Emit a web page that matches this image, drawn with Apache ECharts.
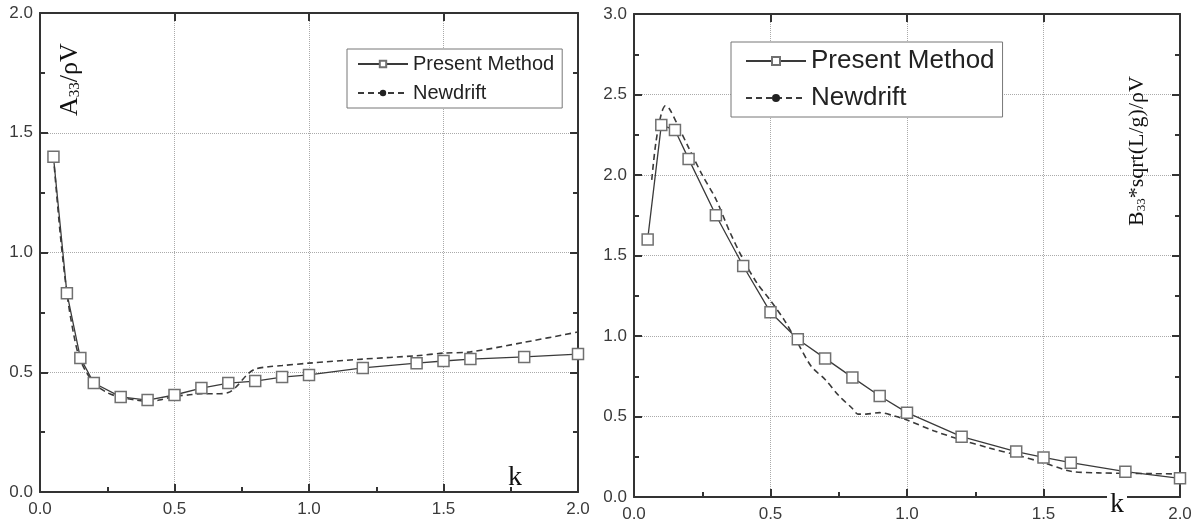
<!DOCTYPE html>
<html><head><meta charset="utf-8">
<script src="https://cdn.jsdelivr.net/npm/echarts@6/dist/echarts.min.js"></script>
<style>html,body{margin:0;padding:0;background:#fff}#c{width:1202px;height:527px}</style>
</head><body><div id="c"></div>
<script>
// ---- data ----
const kPresent = [0.05,0.1,0.15,0.2,0.3,0.4,0.5,0.6,0.7,0.8,0.9,1.0,1.2,1.4,1.5,1.6,1.8,2.0];
const a33Present = [1.40,0.83,0.56,0.455,0.397,0.384,0.405,0.434,0.455,0.463,0.48,0.489,0.518,0.538,0.547,0.555,0.564,0.576];
const b33Present = [1.60,2.31,2.28,2.10,1.75,1.435,1.147,0.98,0.861,0.743,0.627,0.524,0.375,0.282,0.246,0.213,0.157,0.116];

const kNewdriftA = [0.05,0.075,0.1,0.125,0.15,0.2,0.25,0.3,0.35,0.4,0.45,0.5,0.55,0.6,0.65,0.7,0.73,0.77,0.8,0.85,0.9,1.0,1.2,1.4,1.5,1.6,1.8,2.0];
const a33Newdrift = [1.40,1.08,0.83,0.66,0.55,0.455,0.415,0.395,0.385,0.378,0.385,0.40,0.405,0.41,0.41,0.415,0.44,0.49,0.513,0.523,0.528,0.538,0.555,0.569,0.58,0.585,0.625,0.668];

const kNewdriftB = [0.065,0.08,0.1,0.115,0.13,0.16,0.2,0.25,0.3,0.35,0.4,0.45,0.5,0.55,0.6,0.65,0.7,0.75,0.8,0.82,0.85,0.9,0.95,1.0,1.1,1.2,1.3,1.4,1.5,1.6,1.7,1.8,1.9,2.0];
const b33Newdrift = [1.97,2.2,2.38,2.43,2.41,2.31,2.17,2.0,1.85,1.65,1.475,1.33,1.22,1.10,0.955,0.81,0.73,0.63,0.55,0.515,0.515,0.524,0.505,0.478,0.41,0.354,0.305,0.261,0.213,0.16,0.15,0.147,0.145,0.143];

const seriesNames = ['Present Method','Newdrift'];

const pairs = (xs, ys) => xs.map((x,i)=>[x, ys[i]]);

const AX = '#333';
const FONT = 'Liberation Sans, Arial, sans-serif';
const SERIF = 'Liberation Serif, Times New Roman, serif';

function mainX(gi){
  return {gridIndex:gi, type:'value', min:0, max:2, interval:0.5, position:'bottom',
    axisLine:{show:true, onZero:false, lineStyle:{color:AX, width:2}},
    axisTick:{show:true, inside:true, length:8, lineStyle:{color:AX, width:2}},
    minorTick:{show:true, splitNumber:2, length:5, lineStyle:{color:AX, width:2}},
    axisLabel:{show:true, fontSize:17, color:'#3a3a3a', margin:9, fontFamily:FONT, formatter:v=>v.toFixed(1)},
    splitLine:{show:true, lineStyle:{type:'dotted', color:'#aaa', width:1}}};
}
function boxX(gi){
  return {gridIndex:gi, type:'value', min:0, max:2, interval:0.5, position:'top',
    axisLine:{show:true, onZero:false, lineStyle:{color:AX, width:2}},
    axisTick:{show:true, inside:true, length:8, lineStyle:{color:AX, width:2}},
    minorTick:{show:false},
    axisLabel:{show:false}, splitLine:{show:false}};
}
function mainY(gi, max){
  return {gridIndex:gi, type:'value', min:0, max:max, interval:0.5, position:'left',
    axisLine:{show:true, onZero:false, lineStyle:{color:AX, width:2}},
    axisTick:{show:true, inside:true, length:8, lineStyle:{color:AX, width:2}},
    minorTick:{show:true, splitNumber:2, length:5, lineStyle:{color:AX, width:2}},
    axisLabel:{show:true, fontSize:17, color:'#3a3a3a', margin:7, fontFamily:FONT, formatter:v=>v.toFixed(1)},
    splitLine:{show:true, lineStyle:{type:'dotted', color:'#aaa', width:1}}};
}
function boxY(gi, max){
  return {gridIndex:gi, type:'value', min:0, max:max, interval:0.5, position:'right',
    axisLine:{show:true, onZero:false, lineStyle:{color:AX, width:2}},
    axisTick:{show:true, inside:true, length:8, lineStyle:{color:AX, width:2}},
    minorTick:{show:true, splitNumber:2, length:5, lineStyle:{color:AX, width:2}},
    axisLabel:{show:false}, splitLine:{show:false}};
}

function present(xi, yi, data){
  return {name:seriesNames[0], type:'line', xAxisIndex:xi, yAxisIndex:yi, data:data,
    symbol:'rect', symbolSize:11, showSymbol:true,
    lineStyle:{color:'#3a3a3a', width:1.3},
    itemStyle:{color:'#fff', borderColor:'#707070', borderWidth:1.5},
    z:3, animation:false};
}
function newdrift(xi, yi, data){
  return {name:seriesNames[1], type:'line', xAxisIndex:xi, yAxisIndex:yi, data:data,
    smooth:0.3, symbol:'circle', symbolSize:3, showSymbol:false,
    lineStyle:{color:'#3a3a3a', width:1.6, type:[6,4]},
    itemStyle:{color:'#222'}, z:2, animation:false};
}

const chart = echarts.init(document.getElementById('c'), null, {renderer:'canvas'});
chart.setOption({
  animation:false,
  backgroundColor:'#fff',
  grid:[
    {left:40, top:13, width:538, height:479},
    {left:634, top:14, width:546, height:483}
  ],
  xAxis:[mainX(0), boxX(0), mainX(1), boxX(1)],
  yAxis:[mainY(0,2), boxY(0,2), mainY(1,3), boxY(1,3)],
  legend:[
    {data:[{name:seriesNames[0]},{name:seriesNames[1], itemStyle:{borderWidth:0}}],
     orient:'vertical', left:347, top:49, itemWidth:50, itemHeight:8, itemGap:9,
     padding:[5,8,5,10], borderColor:'#777', borderWidth:1, backgroundColor:'#fff',
     textStyle:{fontSize:20, color:'#222', fontFamily:FONT}, selectedMode:false},
    {data:seriesNames, orient:'vertical', left:731, top:42, itemWidth:60, itemHeight:10, itemGap:11,
     padding:[6,8,6,14], borderColor:'#777', borderWidth:1, backgroundColor:'#fff',
     textStyle:{fontSize:26, color:'#222', fontFamily:FONT}, selectedMode:false}
  ],
  series:[
    newdrift(0,0,pairs(kNewdriftA, a33Newdrift)),
    present(0,0,pairs(kPresent, a33Present)),
    newdrift(2,2,pairs(kNewdriftB, b33Newdrift)),
    present(2,2,pairs(kPresent, b33Present))
  ],
  graphic:[
    {type:'text', x:83, y:116, rotation:Math.PI/2, z:10,
     style:{text:'{m|A}{s|33}{m|/ρV}', textAlign:'left', textVerticalAlign:'bottom',
       rich:{m:{fontSize:26, fontFamily:SERIF, fill:'#111', verticalAlign:'bottom', lineHeight:30},
             s:{fontSize:15, fontFamily:SERIF, fill:'#111', verticalAlign:'bottom', lineHeight:22}}}},
    {type:'text', x:1148, y:226, rotation:Math.PI/2, z:10,
     style:{text:'{m|B}{s|33}{m|*sqrt(L/g)/ρV}', textAlign:'left', textVerticalAlign:'bottom',
       rich:{m:{fontSize:22, fontFamily:SERIF, fill:'#111', verticalAlign:'bottom', lineHeight:26},
             s:{fontSize:13, fontFamily:SERIF, fill:'#111', verticalAlign:'bottom', lineHeight:19}}}},
    {type:'text', x:515, y:478, z:10,
     style:{text:'k', fontSize:28, fontFamily:SERIF, fill:'#111', textAlign:'center', textVerticalAlign:'middle'}},
    {type:'text', x:1117, y:505, z:10,
     style:{text:'k', fontSize:28, fontFamily:SERIF, fill:'#111', textAlign:'center', textVerticalAlign:'middle',
       backgroundColor:'#fff', padding:[0,3,0,3]}}
  ]
});
</script></body></html>
